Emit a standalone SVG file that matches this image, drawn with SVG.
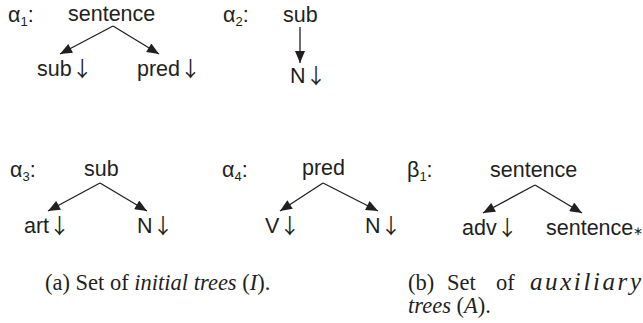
<svg xmlns="http://www.w3.org/2000/svg" width="643" height="323" viewBox="0 0 643 323">
<defs>
<marker id="ah" viewBox="0 0 12 10" refX="12" refY="5" markerWidth="13" markerHeight="10" markerUnits="userSpaceOnUse" orient="auto">
<path d="M0,0 L12,5 L0,10 Z" fill="#231f20"/>
</marker>
<style>
.n{font-family:"Liberation Sans",Arial,sans-serif;font-size:21.5px;fill:#231f20}
.lb{font-family:"Liberation Sans",Arial,sans-serif;font-size:21.5px;fill:#231f20}
.sb{font-size:13px}
.ar{font-family:"Noto Sans CJK JP","Noto Sans CJK SC",sans-serif;font-size:21px;fill:#231f20}
.cap{font-family:"Liberation Serif","Times New Roman",serif;font-size:22.5px;fill:#231f20}
.e{stroke:#231f20;stroke-width:1.3;fill:none;marker-end:url(#ah)}
</style>
</defs>
<rect width="643" height="323" fill="#fff"/>
<g id="labels">
<text class="lb" x="8" y="22">α<tspan class="sb" dy="4">1</tspan><tspan dy="-4">:</tspan></text>
<text class="lb" x="223" y="22">α<tspan class="sb" dy="4">2</tspan><tspan dy="-4">:</tspan></text>
<text class="lb" x="10" y="177">α<tspan class="sb" dy="4">3</tspan><tspan dy="-4">:</tspan></text>
<text class="lb" x="222" y="177">α<tspan class="sb" dy="4">4</tspan><tspan dy="-4">:</tspan></text>
<text class="lb" x="407" y="177">β<tspan class="sb" dy="4">1</tspan><tspan dy="-4">:</tspan></text>
</g>
<g id="connectors">
<line class="e" x1="113" y1="26" x2="60" y2="54"/>
<line class="e" x1="113" y1="26" x2="159" y2="54"/>
<line class="e" x1="300" y1="27" x2="300" y2="63"/>
<line class="e" x1="100" y1="183" x2="48" y2="211"/>
<line class="e" x1="100" y1="183" x2="147" y2="211"/>
<line class="e" x1="323" y1="183" x2="280" y2="211"/>
<line class="e" x1="323" y1="183" x2="378" y2="211"/>
<line class="e" x1="535" y1="185" x2="483" y2="213"/>
<line class="e" x1="535" y1="185" x2="582" y2="213"/>
</g>
<g id="a1-sentence"><text class="n" x="68" y="21">sentence</text></g>
<g id="a1-sub"><text class="n" x="37" y="76">sub<tspan class="ar">↓</tspan></text></g>
<g id="a1-pred"><text class="n" x="137" y="76">pred<tspan class="ar">↓</tspan></text></g>
<g id="a2-sub"><text class="n" x="283" y="22">sub</text></g>
<g id="a2-N"><text class="n" x="290" y="83">N<tspan class="ar">↓</tspan></text></g>
<g id="a3-sub"><text class="n" x="84" y="176">sub</text></g>
<g id="a3-art"><text class="n" x="24" y="233">art<tspan class="ar">↓</tspan></text></g>
<g id="a3-N"><text class="n" x="137" y="233">N<tspan class="ar">↓</tspan></text></g>
<g id="a4-pred"><text class="n" x="302" y="175">pred</text></g>
<g id="a4-V"><text class="n" x="265" y="233">V<tspan class="ar">↓</tspan></text></g>
<g id="a4-N"><text class="n" x="365" y="233">N<tspan class="ar">↓</tspan></text></g>
<g id="b1-sentence"><text class="n" x="490" y="177">sentence</text></g>
<g id="b1-adv"><text class="n" x="462" y="235">adv<tspan class="ar">↓</tspan></text></g>
<g id="b1-sentence-foot"><text class="n" x="546" y="235">sentence<tspan font-size="12">∗</tspan></text></g>
<g id="captions">
<text class="cap" x="45" y="290">(a) Set of <tspan font-style="italic">initial trees</tspan> (<tspan font-style="italic">I</tspan>).</text>
<text class="cap" y="290"><tspan x="408">(b)</tspan><tspan x="447">Set</tspan><tspan x="496">of</tspan></text>
<text class="cap" x="530" y="290" style="font-style:italic;font-size:25px" textLength="111" lengthAdjust="spacing">auxiliary</text>
<text class="cap" x="408" y="313"><tspan font-style="italic">trees</tspan> (<tspan font-style="italic">A</tspan>).</text>
</g>
</svg>
